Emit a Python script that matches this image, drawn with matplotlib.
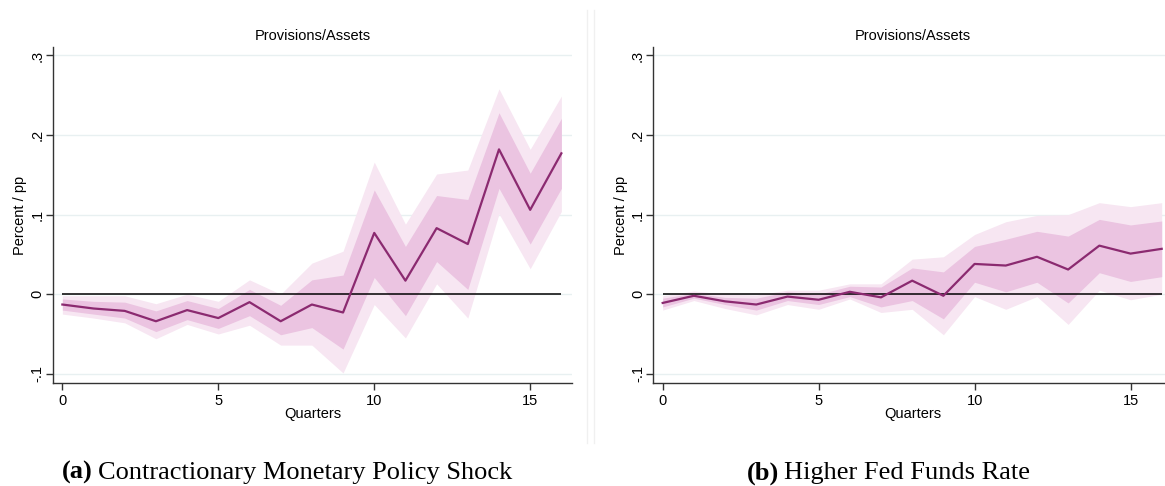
import numpy as np
import matplotlib.pyplot as plt

plt.rcParams['font.family'] = ['Liberation Sans', 'DejaVu Sans']

quarters = np.arange(0, 17)

# panel (a): contractionary monetary policy shock
a_mean = [-0.013, -0.018, -0.021, -0.034, -0.020, -0.030, -0.010, -0.034,
          -0.013, -0.023, 0.077, 0.017, 0.083, 0.063, 0.182, 0.106, 0.177]
a_in_hi = [-0.006, -0.009, -0.010, -0.021, -0.008, -0.018, 0.006, -0.014,
           0.018, 0.024, 0.131, 0.060, 0.124, 0.119, 0.228, 0.152, 0.221]
a_in_lo = [-0.020, -0.025, -0.030, -0.047, -0.032, -0.043, -0.027, -0.051,
           -0.042, -0.069, 0.021, -0.027, 0.041, 0.006, 0.133, 0.063, 0.133]
a_out_hi = [-0.002, -0.002, -0.002, -0.012, 0.000, -0.009, 0.018, 0.000,
            0.039, 0.054, 0.166, 0.088, 0.151, 0.156, 0.258, 0.182, 0.249]
a_out_lo = [-0.025, -0.030, -0.036, -0.056, -0.038, -0.050, -0.039, -0.064,
            -0.064, -0.099, -0.013, -0.055, 0.013, -0.030, 0.101, 0.032, 0.104]

# panel (b): higher fed funds rate
b_mean = [-0.011, -0.002, -0.009, -0.013, -0.003, -0.007, 0.003, -0.004,
          0.017, -0.002, 0.038, 0.036, 0.047, 0.031, 0.061, 0.051, 0.057]
b_in_hi = [-0.005, 0.001, -0.004, -0.005, 0.003, 0.000, 0.010, 0.009,
           0.033, 0.028, 0.060, 0.069, 0.079, 0.073, 0.094, 0.087, 0.092]
b_in_lo = [-0.016, -0.005, -0.013, -0.020, -0.008, -0.013, -0.003, -0.016,
           -0.008, -0.031, 0.015, 0.003, 0.015, -0.011, 0.027, 0.016, 0.022]
b_out_hi = [-0.002, 0.004, 0.000, -0.001, 0.005, 0.005, 0.013, 0.013,
            0.044, 0.047, 0.075, 0.091, 0.099, 0.100, 0.115, 0.110, 0.115]
b_out_lo = [-0.020, -0.008, -0.018, -0.026, -0.013, -0.019, -0.006, -0.023,
            -0.019, -0.051, -0.003, -0.019, -0.003, -0.038, 0.005, -0.007, 0.000]

yticks = [-0.1, 0, 0.1, 0.2, 0.3]
ytick_labels = ['-.1', '0', '.1', '.2', '.3']
xticks = [0, 5, 10, 15]

captions = [('(a)', 'Contractionary Monetary Policy Shock'),
            ('(b)', 'Higher Fed Funds Rate')]

line_col = '#8b2a70'
inner_col = '#ebc4e1'
outer_col = '#f7e6f2'

fig = plt.figure(figsize=(11.65, 4.86), dpi=100)

panels = [
    (0.0455, a_mean, a_in_lo, a_in_hi, a_out_lo, a_out_hi),
    (0.5608, b_mean, b_in_lo, b_in_hi, b_out_lo, b_out_hi),
]

for left, mean, in_lo, in_hi, out_lo, out_hi in panels:
    ax = fig.add_axes([left, 0.2113, 0.4452, 0.6926])
    for y in yticks:
        ax.axhline(y, color='#e8f0f1', lw=1, zorder=0)
    ax.fill_between(quarters, out_lo, out_hi, color=outer_col, lw=0, zorder=1)
    ax.fill_between(quarters, in_lo, in_hi, color=inner_col, lw=0, zorder=2)
    ax.hlines(0, 0, 16, color='black', lw=1.1, zorder=3)
    ax.plot(quarters, mean, color=line_col, lw=1.6, zorder=4)
    ax.set_xlim(-0.3, 16.33)
    ax.set_ylim(-0.112, 0.311)
    ax.set_xticks(xticks)
    ax.set_yticks(yticks)
    ax.set_yticklabels(ytick_labels, rotation=90, va='center')
    ax.tick_params(direction='out', length=5, width=1, labelsize=10.5,
                   color='#333333')
    ax.tick_params(axis='y', pad=1)
    ax.tick_params(axis='x', pad=3)
    for s in ['top', 'right']:
        ax.spines[s].set_visible(False)
    for s in ['left', 'bottom']:
        ax.spines[s].set_color('#333333')
        ax.spines[s].set_linewidth(1)
    ax.set_title('Provisions/Assets', fontsize=10.5, pad=5)
    ax.set_xlabel('Quarters', fontsize=10.5, labelpad=-1)
    ax.set_ylabel('Percent / pp', fontsize=10.5, labelpad=2.5)

# thin separator between the panels
for xs in [587, 594]:
    fig.add_artist(plt.Line2D([xs / 1165, xs / 1165], [1 - 10 / 486, 1 - 443 / 486],
                              color='#f0f0f0', lw=1))

# captions: bold label followed by plain text
cap_font = ['Liberation Serif', 'DejaVu Serif']
renderer = fig.canvas.get_renderer()
for x0, (tag, text) in zip([62, 747], captions):
    t = fig.text(x0 / 1165, 0.027, tag, fontsize=19, family=cap_font,
                 fontweight='bold', ha='left', va='center')
    bb = t.get_window_extent(renderer)
    fig.text((bb.x1 + 5) / 1165, 0.027, text, fontsize=19, family=cap_font,
             ha='left', va='center')

fig.savefig('out.png', dpi=100)
